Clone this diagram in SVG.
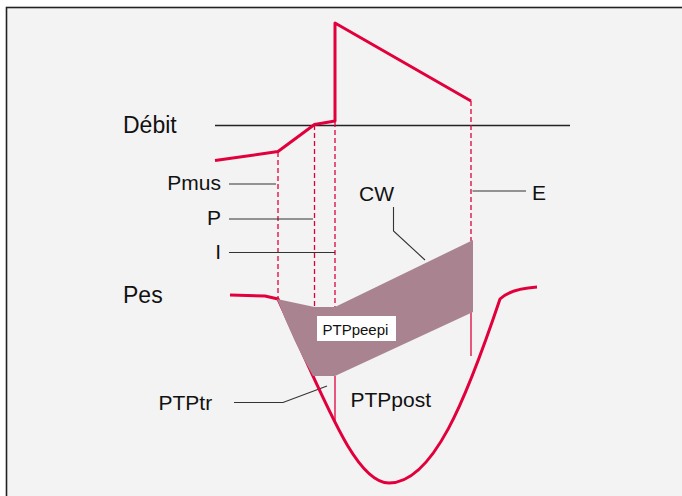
<svg xmlns="http://www.w3.org/2000/svg" width="682" height="496" viewBox="0 0 682 496">
<style>
.lbl{font-family:"Liberation Sans",Arial,sans-serif;font-size:21px;fill:#111}
.big{font-family:"Liberation Sans",Arial,sans-serif;font-size:23px;fill:#111}
.small{font-family:"Liberation Sans",Arial,sans-serif;font-size:15px;fill:#111}
.red{fill:none;stroke:#e2003c;stroke-width:3;stroke-linejoin:round;stroke-linecap:butt}
.dash{fill:none;stroke:#e2003c;stroke-width:1.3;stroke-dasharray:5 3}
.thin{fill:none;stroke:#e2003c;stroke-width:1.3}
.lead{fill:none;stroke:#333;stroke-width:1.1}
</style>
<rect x="0" y="0" width="682" height="496" fill="#ffffff"/>
<rect x="6.5" y="7.5" width="700" height="520" fill="#f3f3f3" stroke="#222" stroke-width="1.6"/>
<g id="connectors">
<line x1="215" y1="125.5" x2="570" y2="125.5" stroke="#222" stroke-width="1.3"/>
<line class="dash" x1="278" y1="152" x2="278" y2="299"/>
<line class="dash" x1="314.5" y1="125" x2="314.5" y2="307"/>
<line class="dash" x1="335" y1="122" x2="335" y2="307"/>
<line class="dash" x1="471" y1="101" x2="471" y2="241"/>
<line class="thin" x1="335" y1="376" x2="335" y2="424"/>
<line class="thin" x1="471" y1="312" x2="471" y2="356"/>
<polyline class="lead" points="229,184 276,184"/>
<polyline class="lead" points="229,219 313,219"/>
<polyline class="lead" points="229,252.5 335,252.5"/>
<polyline class="lead" points="472.5,191 526,191"/>
<polyline class="lead" points="393.5,207 393.5,231 425,260"/>
<polyline class="lead" points="234,402.5 283,402.5 327,386"/>
</g>
<g id="debit-curve">
<polyline class="red" points="215,160.5 278,151.5 314.5,124.5 335,121 335,23 471,101"/>
</g>
<g id="pes-curve">
<path class="red" stroke-width="2.8" d="M230,295 L265,296 L278,299 C325.5,401.5 355,483 389,483 C433,483 466,400 500,299 Q510,289 537,287"/>
</g>
<g id="ptp-area">
<path d="M277,299 L314.5,307 L335,307 L473,240 L473,312 L335,376 L313,376 Q295,345 277,299 Z" fill="#a98490"/>
</g>
<g id="ptppeepi">
<rect x="317" y="316" width="79" height="25" fill="#ffffff"/>
<text class="small" x="322.5" y="335">PTPpeepi</text>
</g>
<g id="label-debit"><text class="big" x="123" y="133">Débit</text></g>
<g id="label-pes"><text class="big" x="123" y="303">Pes</text></g>
<g id="label-pmus"><text class="lbl" x="221" y="190" text-anchor="end">Pmus</text></g>
<g id="label-p"><text class="lbl" x="221" y="224.5" text-anchor="end">P</text></g>
<g id="label-i"><text class="lbl" x="221" y="259" text-anchor="end">I</text></g>
<g id="label-cw"><text class="lbl" x="359" y="200.5">CW</text></g>
<g id="label-e"><text class="lbl" x="532" y="199.5">E</text></g>
<g id="label-ptptr"><text class="lbl" x="158.5" y="409.5">PTPtr</text></g>
<g id="label-ptppost"><text class="lbl" x="350.5" y="407">PTPpost</text></g>
</svg>
